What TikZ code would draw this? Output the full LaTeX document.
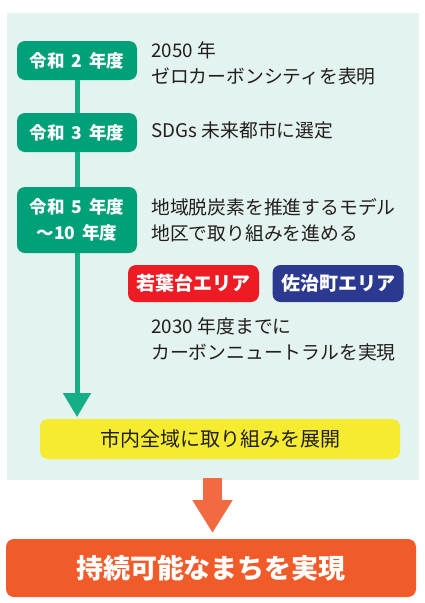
\documentclass[tikz,border=0pt]{standalone}
\usepackage{fontspec}
\setmainfont{Noto Sans CJK JP}
\usetikzlibrary{arrows.meta}
\definecolor{panelbg}{RGB}{227,243,239}
\definecolor{gbox}{RGB}{0,160,120}
\definecolor{gline}{RGB}{22,174,134}
\definecolor{txt}{RGB}{35,30,30}
\definecolor{rbox}{RGB}{237,28,36}
\definecolor{bbox}{RGB}{43,57,144}
\definecolor{ybox}{RGB}{245,235,48}
\definecolor{oarrow}{RGB}{241,106,65}
\definecolor{obox}{RGB}{241,90,41}
\tikzset{
  yearbox/.style={fill=gbox, rounded corners=8pt, minimum width=120pt, text=white,
    font=\fontsize{17.5}{25.5}\selectfont\bfseries, align=center, inner sep=0pt},
  areabox/.style={rounded corners=8pt, minimum width=131pt, minimum height=37pt, text=white,
    font=\fontsize{19}{22}\selectfont\bfseries, inner sep=0pt},
  desc/.style={anchor=west, inner sep=0pt, text=txt, align=left,
    font=\fontsize{18.8}{26}\selectfont},
}
\begin{document}
\begin{tikzpicture}[x=1pt,y=-1pt]
\useasboundingbox (0,0) rectangle (424,603);
\node[fill=panelbg, minimum width=412pt, minimum height=467pt, inner sep=0pt, anchor=north west] (panel) at (7,13) {};
\coordinate (tip) at (77,417);
\node[yearbox, minimum height=39pt] (y2) at (77,60.5) {令和\hspace{0.4em}2\hspace{0.4em}年度};
\node[yearbox, minimum height=39pt] (y3) at (77,132.5) {令和\hspace{0.4em}3\hspace{0.4em}年度};
\node[yearbox, minimum height=66pt] (y5) at (77,220) {令和\hspace{0.4em}5\hspace{0.4em}年度\\〜10\hspace{0.4em}年度};
\draw[gline, line width=5pt, -{Triangle[width=27pt,length=24pt]}] (y5.south) -- (tip);
\draw[gline, line width=5pt] (y2.south) -- (y3.north);
\draw[gline, line width=5pt] (y3.south) -- (y5.north);
\node[desc] (d2) at (151,63.5) {2050\hspace{0.25em}年\\ゼロカーボンシティを表明};
\node[desc] (d3) at (151,130) {SDGs\hspace{0.25em}未来都市に選定};
\node[desc] (d5) at (151,220) {地域脱炭素を推進するモデル\\地区で取り組みを進める};
\node[areabox, fill=rbox] (wa) at (193.5,283.5) {若葉台エリア};
\node[areabox, fill=bbox] (sa) at (338,283.5) {佐治町エリア};
\node[desc] (d30) at (151,339) {2030\hspace{0.25em}年度までに\\カーボンニュートラルを実現};
\node[fill=ybox, rounded corners=8pt, minimum width=360pt, minimum height=40pt, inner sep=0pt,
  text=txt, font=\fontsize{20}{22}\selectfont] (city) at (220,439) {市内全域に取り組みを展開};
\node[fill=obox, rounded corners=8pt, minimum width=410pt, minimum height=58pt, inner sep=0pt,
  text=white, font=\fontsize{27}{30}\selectfont\bfseries] (goal) at (211,568) {持続可能なまちを実現};
\coordinate (oa) at (212.5,478);
\coordinate (ob) at (212.5,533);
\draw[oarrow, line width=19pt, -{Triangle[width=38pt,length=33pt]}] (oa) -- (ob);
\end{tikzpicture}
\end{document}
